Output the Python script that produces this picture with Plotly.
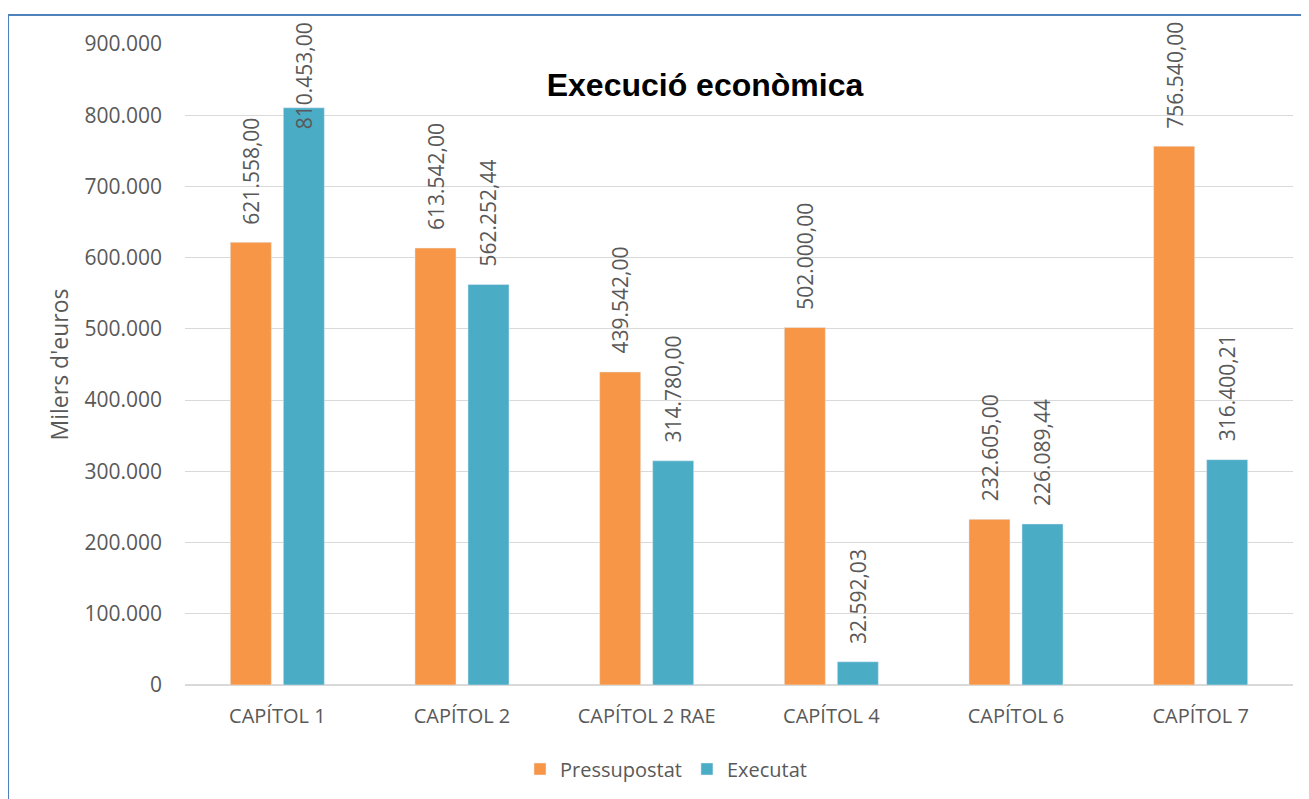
import plotly.graph_objects as go

# data
capitols = ["CAPÍTOL 1", "CAPÍTOL 2", "CAPÍTOL 2 RAE", "CAPÍTOL 4", "CAPÍTOL 6", "CAPÍTOL 7"]
pressupostat = [621558.00, 613542.00, 439542.00, 502000.00, 232605.00, 756540.00]
executat = [810453.00, 562252.44, 314780.00, 32592.03, 226089.44, 316400.21]
y_ticks = [0, 100000, 200000, 300000, 400000, 500000, 600000, 700000, 800000, 900000]
y_max = 900000

grey = "#595959"
font_main = "Open Sans"

# page has an 8px body margin, so the figure is drawn 8px smaller
W, H = 1301, 791
M_L, M_R, M_T, M_B = 177, 16, 36, 114
plot_h = H - M_T - M_B

def fmt(v):
    # 1.234.567,89 style
    s = f"{v:,.2f}"
    return s.replace(",", "X").replace(".", ",").replace("X", ".")

fig = go.Figure()

for name, vals, col in [("Pressupostat", pressupostat, "#F79646"),
                        ("Executat", executat, "#4BACC6")]:
    fig.add_trace(go.Bar(
        name=name,
        x=capitols,
        y=vals,
        marker_color=col,
    ))

# data labels, rotated, above each bar (pushed down if they would leave the chart)
label_len = 108
gap = 16
for vals, dx in [(pressupostat, -26.5), (executat, 26.5)]:
    for cat, v in zip(capitols, vals):
        top_from_plot = (1 - v / y_max) * plot_h - gap - label_len
        shift = gap
        if top_from_plot < -21:
            shift = gap - (-21 - top_from_plot)
        fig.add_annotation(
            x=cat, y=v, xref="x", yref="y",
            text=fmt(v),
            textangle=-90,
            showarrow=False,
            xanchor="center", yanchor="bottom",
            xshift=dx, yshift=shift,
            font=dict(size=21, color=grey, family=font_main),
        )

# chart border
fig.add_shape(
    type="rect", xref="paper", yref="paper",
    x0=-0.1597, x1=1.03, y0=-0.2, y1=1.0452,
    line=dict(color="#4F81BD", width=2),
    fillcolor="rgba(0,0,0,0)",
    layer="below",
)

fig.update_layout(
    width=W,
    height=H,
    separators=",.",
    barmode="group",
    bargap=0.426,
    bargroupgap=0.226,
    paper_bgcolor="white",
    plot_bgcolor="white",
    font=dict(family=font_main, size=20, color=grey),
    margin=dict(l=M_L, r=M_R, t=M_T, b=M_B),
    title=dict(
        text="<b>Execució econòmica</b>",
        x=(705 - 8) / W, xref="container", xanchor="center",
        y=1 - (85 - 8) / H, yref="container", yanchor="middle",
        font=dict(family="Liberation Sans", size=32, color="black"),
    ),
    legend=dict(
        orientation="h",
        x=(666 - 8) / W, xref="container", xanchor="center",
        y=1 - (769 - 8) / H, yref="container", yanchor="middle",
        font=dict(size=20, color=grey),
    ),
    showlegend=True,
)

fig.update_yaxes(
    range=[0, y_max],
    tickvals=y_ticks,
    tickformat=",d",
    showgrid=True,
    gridcolor="#D9D9D9",
    gridwidth=1,
    zeroline=True,
    zerolinecolor="#D9D9D9",
    showline=False,
    ticks="",
    ticklabelstandoff=22,
    tickfont=dict(size=21, color=grey),
    title=dict(text="Milers d'euros", font=dict(size=23, color=grey), standoff=9),
)

fig.update_xaxes(
    showline=False,
    ticks="",
    ticklabelstandoff=17,
    tickfont=dict(size=20, color=grey),
)

fig.write_html("out.html")
